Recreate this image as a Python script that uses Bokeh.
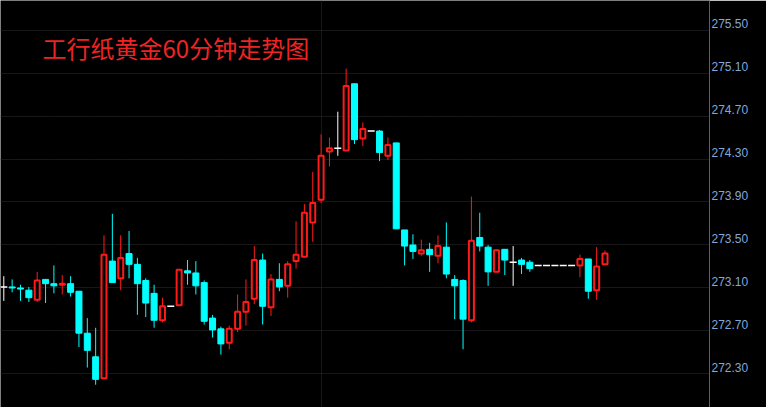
from bokeh.plotting import figure
from bokeh.models import (ColumnDataSource, FixedTicker, Grid, LinearAxis, Range1d,
                          Label, CustomJSTickFormatter)
from bokeh.embed import file_html
from bokeh.resources import INLINE

# ---------------- data ----------------
title_text = "工行纸黄金60分钟走势图"

opens = [273.11, 273.11, 273.10, 273.08, 272.99, 273.18, 273.14, 273.13, 273.14, 273.07,
         272.68, 272.46, 272.26, 273.35, 273.19, 273.42, 273.32, 273.17, 273.05, 272.80,
         272.93, 272.94, 273.26, 273.24, 273.15, 272.82, 272.72, 272.59, 272.72, 272.88,
         273.00, 273.36, 272.92, 273.18, 273.12, 273.35, 273.39, 273.71, 273.92, 274.37,
         274.40, 274.38, 275.00, 274.49, 274.56, 274.56, 274.33, 274.45, 273.64, 273.50,
         273.42, 273.46, 273.40, 273.48, 273.18, 273.17, 272.80, 273.57, 273.48, 273.25,
         273.46, 273.34, 273.36, 273.34, 273.31, 273.31, 273.31, 273.31, 273.31, 273.31,
         273.37, 273.08, 273.32]
highs = [273.21, 273.18, 273.13, 273.11, 273.25, 273.18, 273.31, 273.22, 273.21, 273.07,
         272.82, 272.73, 273.59, 273.79, 273.59, 273.63, 273.38, 273.19, 273.13, 273.01,
         272.93, 273.27, 273.36, 273.35, 273.17, 272.85, 272.74, 272.75, 273.04, 273.18,
         273.49, 273.42, 273.23, 273.33, 273.35, 273.72, 273.88, 274.18, 274.53, 274.50,
         274.74, 275.14, 275.00, 274.64, 274.56, 274.57, 274.50, 274.45, 273.64, 273.60,
         273.55, 273.52, 273.59, 273.71, 273.22, 273.18, 273.95, 273.80, 273.50, 273.46,
         273.46, 273.49, 273.38, 273.36, 273.31, 273.31, 273.31, 273.31, 273.31, 273.41,
         273.37, 273.48, 273.45]
lows = [272.98, 273.06, 272.98, 272.97, 272.97, 272.96, 273.05, 273.04, 273.02, 272.55,
        272.36, 272.20, 272.26, 273.15, 273.08, 273.19, 272.85, 272.83, 272.73, 272.78,
        272.93, 272.94, 273.13, 273.04, 272.76, 272.64, 272.48, 272.53, 272.69, 272.75,
        272.95, 272.76, 272.84, 273.07, 273.01, 273.28, 273.39, 273.53, 273.89, 274.23,
        274.33, 274.38, 274.44, 274.42, 274.56, 274.28, 274.29, 273.65, 273.31, 273.37,
        273.40, 273.25, 273.33, 273.19, 272.81, 272.53, 272.78, 273.44, 273.12, 273.25,
        273.22, 273.12, 273.23, 273.25, 273.31, 273.31, 273.31, 273.31, 273.31, 273.20,
        273.00, 272.99, 273.32]
closes = [273.11, 273.10, 273.09, 273.01, 273.17, 273.14, 273.12, 273.14, 273.06, 272.68,
          272.52, 272.25, 273.41, 273.15, 273.38, 273.32, 273.14, 272.96, 272.80, 272.93,
          272.93, 273.27, 273.24, 273.12, 272.79, 272.71, 272.58, 272.72, 272.88, 272.97,
          273.36, 272.93, 273.18, 273.11, 273.32, 273.41, 273.80, 273.89, 274.33, 274.40,
          274.40, 274.98, 274.48, 274.58, 274.56, 274.36, 274.43, 273.65, 273.49, 273.44,
          273.45, 273.41, 273.49, 273.23, 273.12, 272.81, 273.54, 273.49, 273.25, 273.45,
          273.36, 273.34, 273.32, 273.28, 273.31, 273.31, 273.31, 273.31, 273.31, 273.37,
          273.07, 273.30, 273.42]
tick_values = [272.30, 272.70, 273.10, 273.50, 273.90, 274.30, 274.70, 275.10, 275.50]
tick_labels = ["272.30", "272.70", "273.10", "273.50", "273.90", "274.30", "274.70", "275.10", "275.50"]
session_breaks = [38]

# ---------------- styles ----------------
BG = "#000000"
UP = "#ff1a1a"
DOWN = "#00ffff"
FLAT = "#ffffff"
GRID = "#2e2e2e"
LABEL = "#80a8da"

idx = list(range(len(opens)))

def pick(cond):
    sel = [i for i in idx if cond(i)]
    return ColumnDataSource(dict(
        x=sel,
        o=[opens[i] for i in sel], h=[highs[i] for i in sel],
        l=[lows[i] for i in sel], c=[closes[i] for i in sel],
        top=[max(opens[i], closes[i]) for i in sel],
        bot=[min(opens[i], closes[i]) for i in sel],
    ))

src_up = pick(lambda i: closes[i] > opens[i])
src_dn = pick(lambda i: closes[i] < opens[i])
src_fl = pick(lambda i: closes[i] == opens[i])

p = figure(width=766, height=407,
           x_range=Range1d(-0.395, 84.515), y_range=Range1d(271.98837, 275.77442),
           output_backend="svg", toolbar_location=None,
           x_axis_type=None, y_axis_type=None,
           min_border_left=0, min_border_top=0, min_border_bottom=0, min_border_right=57,
           background_fill_color=BG, border_fill_color=BG, outline_line_color=None)

# grids
hgrid = Grid(dimension=1, ticker=FixedTicker(ticks=tick_values),
             grid_line_color=GRID, grid_line_dash="1 1", grid_line_width=1)
vgrid = Grid(dimension=0, ticker=FixedTicker(ticks=session_breaks),
             grid_line_color=GRID, grid_line_dash="1 1", grid_line_width=1)
p.add_layout(hgrid)
p.add_layout(vgrid)

# right axis (labels sit just above their grid line)
label_shift = 0.061
axis = LinearAxis(ticker=FixedTicker(ticks=[t + label_shift for t in tick_values]),
                  formatter=CustomJSTickFormatter(args=dict(shift=label_shift, vals=tick_values, labs=tick_labels),
                                                  code="""
let best = 0, d = 1e9;
for (let k = 0; k < vals.length; k++) {
  const e = Math.abs(vals[k] + shift - tick);
  if (e < d) { d = e; best = k; }
}
return labs[best];
"""),
                  axis_line_color="#5e5e5e", axis_line_width=1,
                  major_tick_line_color=None, minor_tick_line_color=None,
                  major_tick_in=0, major_tick_out=0,
                  major_label_text_color=LABEL, major_label_text_font="Liberation Sans",
                  major_label_text_font_size="12px", major_label_standoff=2)
p.add_layout(axis, "right")

# wicks
p.segment(x0="x", y0="l", x1="x", y1="h", source=src_dn, line_color=DOWN, line_width=1)
p.segment(x0="x", y0="l", x1="x", y1="h", source=src_up, line_color=UP, line_width=1)
p.segment(x0="x", y0="l", x1="x", y1="h", source=src_fl, line_color=FLAT, line_width=1)

# bodies
p.vbar(x="x", top="top", bottom="bot", width=0.72, source=src_dn,
       fill_color=DOWN, line_color=DOWN, line_width=1)
p.vbar(x="x", top="top", bottom="bot", width=0.6, source=src_up,
       fill_color=BG, line_color=UP, line_width=2)
p.scatter(x="x", y="c", source=src_fl, marker="dash", size=7,
          line_color=FLAT, line_width=1.5)

# title inside the chart
p.add_layout(Label(x=42, y=360, x_units="screen", y_units="screen", text=title_text,
                   text_font="Noto Sans CJK SC", text_font_size="24px",
                   text_color="#ee2424", text_baseline="middle", text_align="left"))

open("out.html", "w").write(file_html(p, INLINE))
